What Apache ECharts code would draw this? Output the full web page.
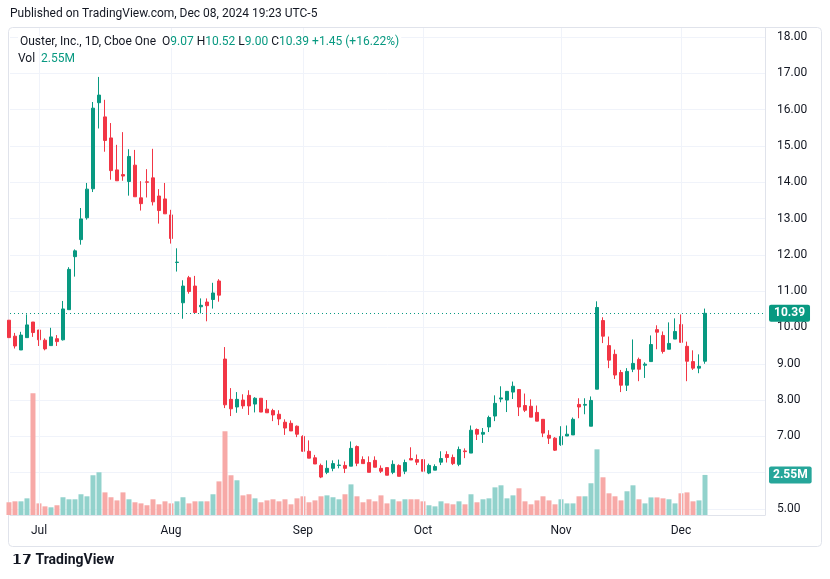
<!DOCTYPE html>
<html>
<head>
<meta charset="utf-8">
<script src="https://cdn.jsdelivr.net/npm/echarts@6/dist/echarts.min.js"></script>
<style>
html, body { margin: 0; padding: 0; background: #fff; }
#chart { width: 830px; height: 579px; }
</style>
</head>
<body>
<div id="chart"></div>
<script>
// daily bars, index 0 = Jun 24 2024, index 116 = Dec 6 2024
var opens = [10.20,9.76,9.38,9.72,10.15,9.93,9.65,9.50,9.69,9.66,10.49,11.95,12.42,13.02,13.82,16.19,15.80,15.22,14.34,14.21,
  14.02,14.47,13.57,14.01,14.12,13.62,13.54,13.10,11.79,10.68,11.37,11.14,10.57,10.70,10.77,11.28,9.13,8.02,7.81,8.00,
  8.13,7.89,8.05,7.75,7.71,7.61,7.39,7.36,7.28,7.00,6.59,6.41,6.20,6.01,6.12,6.20,6.20,6.18,6.72,6.36,
  6.28,6.34,6.12,6.14,6.01,6.20,6.04,6.39,6.36,6.36,5.99,6.07,6.29,6.50,6.42,6.23,6.60,6.54,7.19,7.06,
  7.26,7.56,8.03,8.00,8.22,8.29,7.85,7.83,7.66,7.47,7.03,6.95,6.77,7.01,7.04,7.88,7.86,7.28,8.30,10.19,
  9.50,9.26,8.76,8.41,8.85,9.12,8.96,9.06,9.94,9.78,9.40,9.68,10.08,9.48,9.06,8.88,9.07];
var closes = [9.72,9.49,9.79,10.07,9.86,9.66,9.41,9.74,9.61,10.51,11.60,12.11,12.99,13.81,16.04,16.40,15.15,14.32,14.04,14.17,
  14.71,13.60,13.41,14.00,13.46,13.22,13.13,12.45,11.80,11.14,10.99,10.41,10.61,10.60,10.95,10.89,7.87,7.76,8.02,7.84,
  7.84,8.05,7.67,7.65,7.59,7.48,7.23,7.15,7.06,6.59,6.40,6.24,5.88,6.12,6.25,6.21,6.12,6.67,6.26,6.25,
  6.01,6.15,6.04,5.93,6.23,5.90,6.28,6.35,6.29,6.04,6.20,6.17,6.39,6.42,6.25,6.64,6.58,7.17,7.06,7.11,
  7.52,7.91,8.06,8.24,8.38,7.81,7.72,7.53,7.42,7.09,6.95,6.62,7.00,7.06,7.47,7.81,7.88,7.99,10.55,9.76,
  9.10,8.69,8.41,8.79,9.01,8.85,8.99,9.53,9.87,9.34,9.56,9.89,9.59,9.07,8.88,8.93,10.39];
var lows = [9.72,9.42,9.38,9.72,9.74,9.49,9.37,9.50,9.49,9.64,10.49,11.40,12.28,12.97,13.73,15.48,14.84,14.07,14.04,14.04,
  13.63,13.60,13.22,13.58,13.36,12.86,13.13,12.31,11.54,10.24,10.93,10.41,10.39,10.17,10.52,10.71,7.78,7.56,7.65,7.76,
  7.59,7.66,7.67,7.65,7.42,7.31,7.04,7.15,6.98,6.58,6.40,6.24,5.85,5.96,6.04,6.12,5.99,6.18,6.18,6.25,
  6.01,6.15,5.99,5.93,5.96,5.90,5.96,6.35,6.21,6.04,5.96,6.07,6.21,6.28,6.21,6.18,6.40,6.54,6.90,6.82,
  7.12,7.42,7.94,7.67,8.03,7.56,7.67,7.53,7.42,6.98,6.79,6.60,6.74,7.01,7.04,7.50,7.61,7.28,8.30,9.57,
  8.88,8.58,8.22,8.25,8.77,8.52,8.61,9.06,9.40,9.28,9.40,9.68,9.59,8.52,8.83,8.74,9.00];
var highs = [10.20,9.85,9.88,10.36,10.15,9.93,9.70,9.99,9.79,10.73,11.66,12.15,13.29,13.98,16.21,16.90,16.27,15.63,15.03,15.38,
  14.91,14.89,14.03,14.36,14.92,13.81,13.98,13.24,12.18,11.30,11.42,11.42,10.80,10.80,11.23,11.33,9.46,8.33,8.22,8.16,
  8.27,8.08,8.05,8.00,7.76,7.72,7.47,7.44,7.30,7.03,6.89,6.49,6.25,6.34,6.34,6.36,6.31,6.86,6.75,6.45,
  6.45,6.45,6.20,6.14,6.34,6.23,6.36,6.70,6.50,6.36,6.25,6.23,6.59,6.59,6.50,6.72,6.67,7.30,7.22,7.23,
  7.57,8.13,8.38,8.24,8.51,8.29,8.18,8.02,7.85,7.47,7.17,6.98,7.28,7.30,7.52,8.05,8.05,8.10,10.72,10.28,
  9.75,9.39,8.83,8.88,9.67,9.17,9.04,9.78,10.06,9.89,10.14,10.25,10.36,9.61,9.37,9.26,10.52];
// volume in millions
var volumes = [0.81,0.87,0.87,1.06,7.75,0.74,0.55,0.49,0.62,1.13,1.00,1.00,1.32,1.19,2.53,2.72,1.44,1.13,0.93,1.44,
  1.00,0.81,0.74,0.62,1.00,0.68,0.87,0.74,0.87,1.13,0.74,0.87,0.87,0.87,1.32,2.14,5.33,2.53,2.21,1.25,
  1.32,1.06,0.81,0.93,1.00,0.87,1.00,0.68,1.06,1.19,0.81,0.93,1.19,1.25,1.13,1.00,1.32,1.95,1.19,0.81,
  1.00,0.87,1.25,0.74,1.00,0.87,1.00,1.00,1.00,0.87,0.62,0.55,0.87,0.74,0.68,0.87,0.68,1.32,0.81,1.00,
  1.06,1.76,1.89,1.06,1.25,1.70,0.87,0.68,0.93,1.19,0.93,0.68,1.00,0.74,0.74,1.19,1.19,2.02,4.18,2.40,
  1.38,1.19,0.93,1.51,1.89,1.00,0.74,1.12,1.12,1.06,1.00,0.74,1.38,1.44,0.87,0.93,2.55];
var monthTicks = [5, 27, 49, 69, 92, 112];
var monthLabels = ['Jul', 'Aug', 'Sep', 'Oct', 'Nov', 'Dec'];
var lastClose = 10.39;
var lastVolume = 2.55;

var UP = '#089981', DOWN = '#f23645';
var candleData = [], volData = [];
for (var i = 0; i < opens.length; i++) {
    candleData.push([i, opens[i], closes[i], lows[i], highs[i]]);
    var up = closes[i] >= opens[i];
    volData.push({value: [i, volumes[i]], itemStyle: {color: up ? '#92d2cc' : '#f7a9a7'}});
}

var xMin = 0.17, xMax = 126;
var myChart = echarts.init(document.getElementById('chart'));
var option = {
    animation: false,
    textStyle: {fontFamily: 'Roboto, "DejaVu Sans", sans-serif'},
    graphic: [
        {type: 'text', left: 10, top: 8, style: {text: 'Published on TradingView.com, Dec 08, 2024 19:23 UTC-5', fill: '#131722', font: '12px Roboto'}},
        {type: 'rect', shape: {x: 8.5, y: 27.5, width: 813, height: 519, r: 4}, style: {fill: 'none', stroke: '#e0e3eb'}, z: -1},
        {type: 'text', left: 18, top: 36, z: 10, style: {
            backgroundColor: '#fff', padding: [0, 2],
            rich: {n: {fill: '#131722', font: '12px Roboto'}, g: {fill: '#089981', font: '12px Roboto'}},
            text: '{n|Ouster, Inc., 1D, Cboe One  O}{g|9.07}{n| H}{g|10.52}{n| L}{g|9.00}{n| C}{g|10.39}{g| +1.45 (+16.22%)}'}},
        {type: 'text', left: 18, top: 53, z: 10, style: {
            rich: {n: {fill: '#131722', font: '12px Roboto'}, g: {fill: '#089981', font: '12px Roboto'}},
            text: '{n|Vol  }{g|2.55M}'}},
        {type: 'text', left: 12, top: 553, style: {text: '𝟭𝟳 TradingView', fill: '#131722', font: 'bold 14px Roboto'}}
    ],
    grid: [
        {left: 10, right: 65, top: 37, bottom: 70},
        {left: 10, right: 65, top: 28, bottom: 64}
    ],
    xAxis: [
        {gridIndex: 0, type: 'value', min: xMin, max: xMax, show: false},
        {gridIndex: 1, type: 'value', min: xMin, max: xMax,
         axisLine: {show: true, lineStyle: {color: '#e0e3eb'}},
         axisTick: {show: false},
         splitLine: {show: false},
         axisLabel: {customValues: monthTicks, color: '#131722', fontSize: 12, margin: 10,
            formatter: function (v) { var k = monthTicks.indexOf(Math.round(v)); return k >= 0 ? monthLabels[k] : ''; }}}
    ],
    yAxis: [
        {gridIndex: 0, type: 'value', position: 'right', min: 5, max: 18, interval: 1,
         axisLine: {show: false}, axisTick: {show: false},
         axisLabel: {color: '#131722', fontSize: 12, margin: 12, formatter: function (v) { return v.toFixed(2); }},
         splitLine: {lineStyle: {color: '#f0f3fa'}}},
        {gridIndex: 1, type: 'value', position: 'right', min: 0, max: 31,
         axisLine: {show: true, lineStyle: {color: '#e0e3eb'}}, axisTick: {show: false},
         axisLabel: {show: false}, splitLine: {show: false}}
    ],
    series: [
        {
            name: 'grid', type: 'line', xAxisIndex: 1, yAxisIndex: 1, data: [], z: 0,
            markLine: {silent: true, symbol: 'none', label: {show: false},
                lineStyle: {color: '#f0f3fa', type: 'solid', width: 1},
                data: monthTicks.map(function (t) { return {xAxis: t}; })}
        },
        {
            name: 'Vol', type: 'bar', xAxisIndex: 1, yAxisIndex: 1, barWidth: 5, data: volData, z: 1
        },
        {
            name: 'VolLabel', type: 'line', xAxisIndex: 1, yAxisIndex: 1, data: [], z: 5,
            markLine: {silent: true, symbol: 'none', lineStyle: {color: 'rgba(0,0,0,0)', width: 0},
                label: {show: true, position: 'end', formatter: '2.55M', color: '#fff', fontWeight: 'bold', fontSize: 12,
                        backgroundColor: '#26a69a', padding: [3, 4, 2, 4], borderRadius: 2, distance: 4},
                data: [{yAxis: lastVolume}]}
        },
        {
            name: 'OUST', type: 'candlestick', xAxisIndex: 0, yAxisIndex: 0, barWidth: 4, data: candleData, z: 3,
            encode: {x: 0, y: [1, 2, 3, 4]},
            itemStyle: {color: UP, color0: DOWN, borderColor: UP, borderColor0: DOWN},
            markLine: {silent: true, symbol: 'none',
                lineStyle: {color: '#089981', type: [1, 3], width: 1},
                label: {position: 'end', formatter: '10.39', color: '#fff', fontWeight: 'bold', fontSize: 12,
                        backgroundColor: '#089981', padding: [3, 5, 2, 5], borderRadius: 2, distance: 4},
                data: [{yAxis: lastClose}]}
        }
    ]
};
myChart.setOption(option);
</script>
</body>
</html>
